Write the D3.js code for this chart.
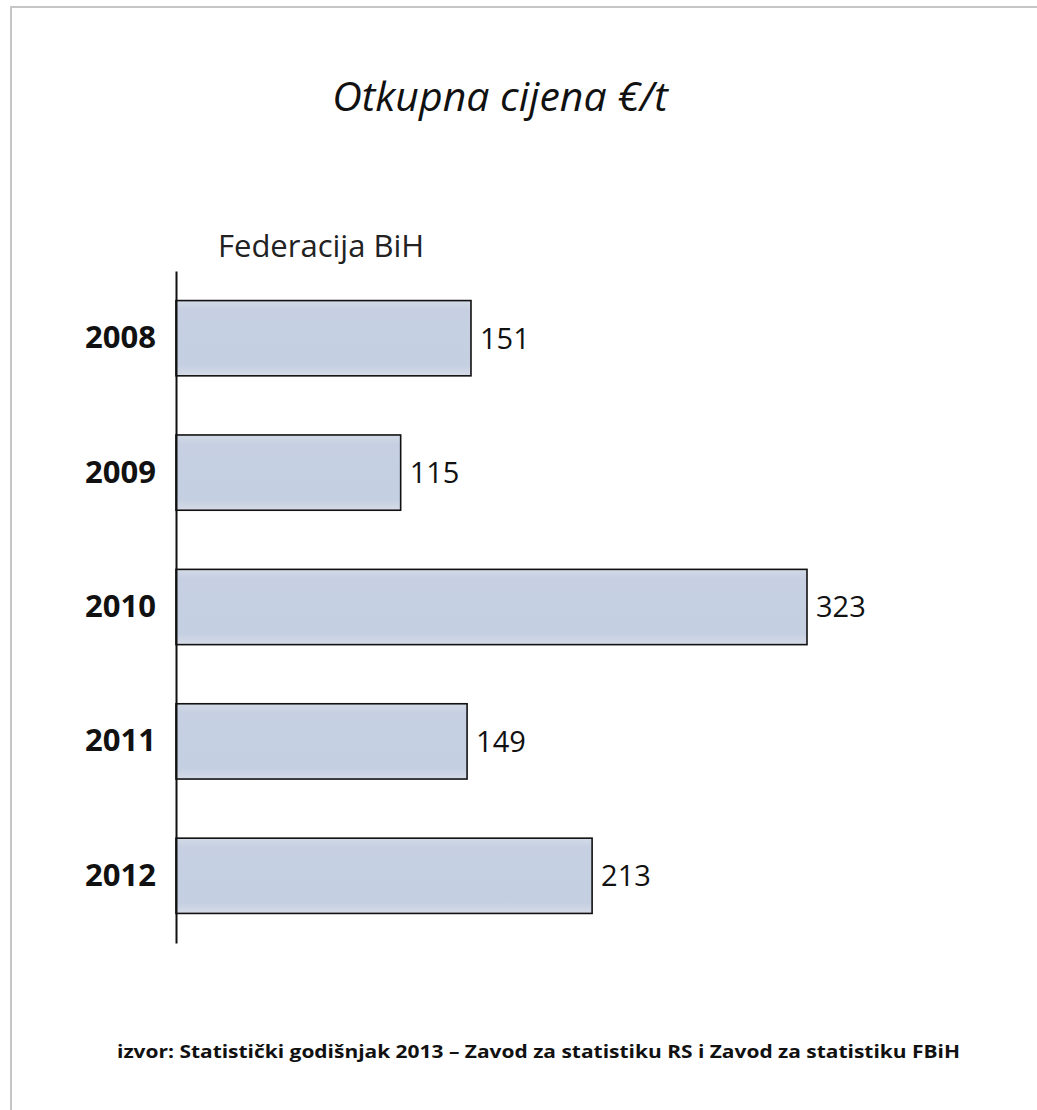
<!DOCTYPE html>
<html>
<head>
<meta charset="utf-8">
<script src="https://cdn.jsdelivr.net/npm/d3@7"></script>
<style>
  body { margin: 0; background: #fff; }
  svg text { font-family: "Open Sans", "DejaVu Sans", sans-serif; fill: #111; }
</style>
</head>
<body>
<div id="chart"></div>
<script>
// Data
const years = ["2008", "2009", "2010", "2011", "2012"];
const prices = [151, 115, 323, 149, 213];
const chartTitle = "Otkupna cijena €/t";
const seriesName = "Federacija BiH";
const sourceNote = "izvor: Statistički  godišnjak  2013 – Zavod  za statistiku  RS i Zavod za statistiku  FBiH";

const width = 1037, height = 1110;
const margin = { top: 271, left: 176, bottom: 167 };

const svg = d3.select("#chart").append("svg")
    .attr("width", width)
    .attr("height", height);

// gradient for the bars (lighter at top and bottom edges)
const grad = svg.append("defs").append("linearGradient")
    .attr("id", "barFill")
    .attr("x1", 0).attr("y1", 0).attr("x2", 0).attr("y2", 1);
grad.append("stop").attr("offset", "0%").attr("stop-color", "#d3dae7");
grad.append("stop").attr("offset", "12%").attr("stop-color", "#c6d0e2");
grad.append("stop").attr("offset", "85%").attr("stop-color", "#c4cfe2");
grad.append("stop").attr("offset", "100%").attr("stop-color", "#d6dbe6");

// outer frame (grey, only top and left visible)
svg.append("path")
    .attr("d", `M11,${height} L11,7 L${width},7`)
    .attr("fill", "none")
    .attr("stroke", "#c6c6c6")
    .attr("stroke-width", 2);

// scales
const x = d3.scaleLinear()
    .domain([0, 323])
    .range([margin.left, 807]);

const y = d3.scaleBand()
    .domain(years)
    .range([margin.top, height - margin.bottom])
    .paddingInner(0.44)
    .paddingOuter(0.22);

const data = years.map((yr, i) => ({ year: yr, value: prices[i] }));

// title
svg.append("text")
    .attr("x", 500)
    .attr("y", 111)
    .attr("text-anchor", "middle")
    .style("font-size", "41px")
    .style("font-style", "italic")
    .text(chartTitle);

// series name
svg.append("text")
    .attr("x", 218)
    .attr("y", 257)
    .style("font-size", "31px")
    .style("fill", "#222")
    .text(seriesName);

// bars
svg.selectAll(".bar")
    .data(data)
    .enter().append("rect")
    .attr("class", "bar")
    .attr("x", x(0))
    .attr("y", d => y(d.year))
    .attr("width", d => x(d.value) - x(0))
    .attr("height", y.bandwidth())
    .attr("fill", "url(#barFill)")
    .attr("stroke", "#111")
    .attr("stroke-width", 1.6);

// value labels
svg.selectAll(".val")
    .data(data)
    .enter().append("text")
    .attr("class", "val")
    .attr("x", d => x(d.value) + 9)
    .attr("y", d => y(d.year) + y.bandwidth() / 2)
    .attr("dy", "0.36em")
    .style("font-size", "29px")
    .text(d => d.value);

// y axis: just the line and bold year labels
const yAxis = svg.append("g")
    .attr("transform", `translate(${margin.left},0)`)
    .call(d3.axisLeft(y).tickSize(0).tickPadding(20).tickSizeOuter(0));
yAxis.select(".domain")
    .attr("stroke", "#111")
    .attr("stroke-width", 2);
yAxis.selectAll("text")
    .style("font-family", "\"Open Sans\", sans-serif")
    .style("font-size", "31px")
    .style("font-weight", "bold")
    .attr("fill", "#111");

// source note
svg.append("text")
    .attr("x", 117)
    .attr("y", 1058)
    .attr("textLength", 843)
    .attr("lengthAdjust", "spacingAndGlyphs")
    .style("font-size", "18px")
    .style("font-weight", "bold")
    .text(sourceNote);
</script>
</body>
</html>
